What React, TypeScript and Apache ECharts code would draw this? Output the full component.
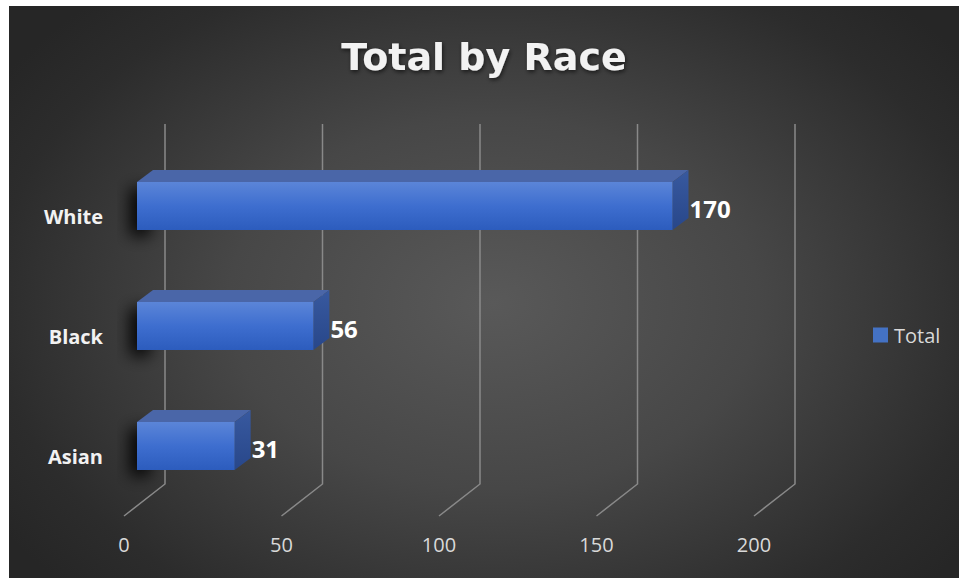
import React, { useEffect, useRef } from "react";
import * as echarts from "echarts";

const titleText = "Total by Race";
const seriesName = "Total";
const categories = ["Asian", "Black", "White"];
const values = [31, 56, 170];
const xTicks = [0, 50, 100, 150, 200];

const BACK_DX = 28;
const BACK_DY = -22;
const FLOOR_DX = -13;
const FLOOR_DY = 10;
const BAR_DX = 16;
const BAR_DY = -12;

export default function App() {
  const ref = useRef<HTMLDivElement>(null);

  useEffect(() => {
    if (!ref.current) return;
    const chart = echarts.init(ref.current, null, { renderer: "svg" });

    const gridRender = (params: any, api: any) => {
      const cs = params.coordSys;
      const x = api.coord([api.value(0), 0])[0];
      const top = cs.y;
      const bottom = cs.y + cs.height;
      return {
        type: "polyline",
        shape: {
          points: [
            [x + BACK_DX, top + BACK_DY],
            [x + BACK_DX, bottom + BACK_DY],
            [x + FLOOR_DX, bottom + FLOOR_DY],
          ],
        },
        style: { stroke: "#898989", lineWidth: 1.5, fill: "none" },
      };
    };

    const barRender = (params: any, api: any) => {
      const val = api.value(0);
      const cat = api.value(1);
      const p0 = api.coord([0, cat]);
      const p1 = api.coord([val, cat]);
      const h = api.size([0, 1])[1] * 0.4;
      const x0 = p0[0];
      const x1 = p1[0];
      const top = p0[1] - h / 2;
      const bottom = p0[1] + h / 2;
      return {
        type: "group",
        children: [
          {
            type: "rect",
            shape: { x: x0, y: top, width: 20, height: h },
            style: {
              fill: "#000",
              shadowBlur: 16,
              shadowColor: "rgba(0,0,0,0.95)",
              shadowOffsetX: -7,
              shadowOffsetY: 6,
            },
          },
          {
            type: "polygon",
            shape: {
              points: [
                [x0, top],
                [x1, top],
                [x1 + BAR_DX, top + BAR_DY],
                [x0 + BAR_DX, top + BAR_DY],
              ],
            },
            style: { fill: "#4a66a8" },
          },
          {
            type: "polygon",
            shape: {
              points: [
                [x1, top],
                [x1 + BAR_DX, top + BAR_DY],
                [x1 + BAR_DX, bottom + BAR_DY],
                [x1, bottom],
              ],
            },
            style: {
              fill: new echarts.graphic.LinearGradient(0, 0, 0, 1, [
                { offset: 0, color: "#38599f" },
                { offset: 1, color: "#28478a" },
              ]),
            },
          },
          {
            type: "rect",
            shape: { x: x0, y: top, width: x1 - x0, height: h },
            style: {
              fill: new echarts.graphic.LinearGradient(0, 0, 0, 1, [
                { offset: 0, color: "#5b85d8" },
                { offset: 0.5, color: "#3e6ecf" },
                { offset: 1, color: "#2c5cbd" },
              ]),
            },
          },
          {
            type: "text",
            x: x1 + BAR_DX + 1,
            y: p0[1] + 2,
            style: {
              text: String(val),
              fill: "#ffffff",
              font: 'bold 24px "Open Sans"',
              align: "left",
              verticalAlign: "middle",
              textAlign: "left",
              textVerticalAlign: "middle",
            },
          },
        ],
      };
    };

    chart.setOption({
      animation: false,
      backgroundColor: "transparent",
      title: {
        text: titleText,
        left: "center",
        top: 32,
        padding: [0, 0, 0, 12],
        textStyle: {
          color: "#f2f2f2",
          fontFamily: "DejaVu Sans",
          fontWeight: "bold",
          fontSize: 38,
          textShadowColor: "rgba(0,0,0,0.6)",
          textShadowBlur: 4,
          textShadowOffsetX: 1,
          textShadowOffsetY: 2,
        },
      },
      legend: {
        data: [seriesName],
        orient: "vertical",
        left: 859,
        top: 314,
        icon: "rect",
        itemWidth: 15,
        itemHeight: 15,
        itemGap: 5,
        textStyle: {
          color: "#d9d9d9",
          fontFamily: "Open Sans",
          fontSize: 20,
          padding: [0, 0, 0, 1],
        },
      },
      grid: {
        left: 128,
        top: 140,
        width: 630,
        height: 360,
        containLabel: false,
      },
      xAxis: {
        type: "value",
        min: 0,
        max: 200,
        interval: 50,
        splitLine: { show: false },
        axisLine: { show: false },
        axisTick: { show: false },
        axisLabel: {
          margin: 26,
          formatter: "{b|{value}}",
          rich: {
            b: {
              color: "#d9d9d9",
              fontFamily: "Open Sans",
              fontSize: 20,
              lineHeight: 24,
              padding: [0, 26, 0, 0],
            },
          },
        },
      },
      yAxis: {
        type: "category",
        data: categories,
        axisLine: { show: false },
        axisTick: { show: false },
        splitLine: { show: false },
        axisLabel: {
          margin: 34,
          formatter: "{a|{value}}",
          rich: {
            a: {
              color: "#f2f2f2",
              fontFamily: "Open Sans",
              fontWeight: "bold",
              fontSize: 20,
              lineHeight: 24,
              padding: [21, 0, 0, 0],
            },
          },
        },
      },
      series: [
        {
          type: "custom",
          name: "gridlines",
          renderItem: gridRender,
          data: xTicks.map((v) => [v, 0]),
          encode: { x: 0, y: 1 },
          silent: true,
          z: 1,
        },
        {
          type: "custom",
          name: seriesName,
          renderItem: barRender,
          itemStyle: { color: "#4472c4" },
          data: values.map((v, i) => [v, i]),
          encode: { x: 0, y: 1 },
          z: 2,
        },
      ],
    });

    return () => chart.dispose();
  }, []);

  return (
    <div
      style={{
        position: "absolute",
        left: 9,
        top: 6,
        width: 950,
        height: 572,
        background:
          "radial-gradient(ellipse 62% 72% at 51% 52%, #595959 0%, #474747 45%, #2c2c2c 85%, #262626 100%)",
      }}
    >
      <div ref={ref} style={{ width: 950, height: 572 }} />
    </div>
  );
}
